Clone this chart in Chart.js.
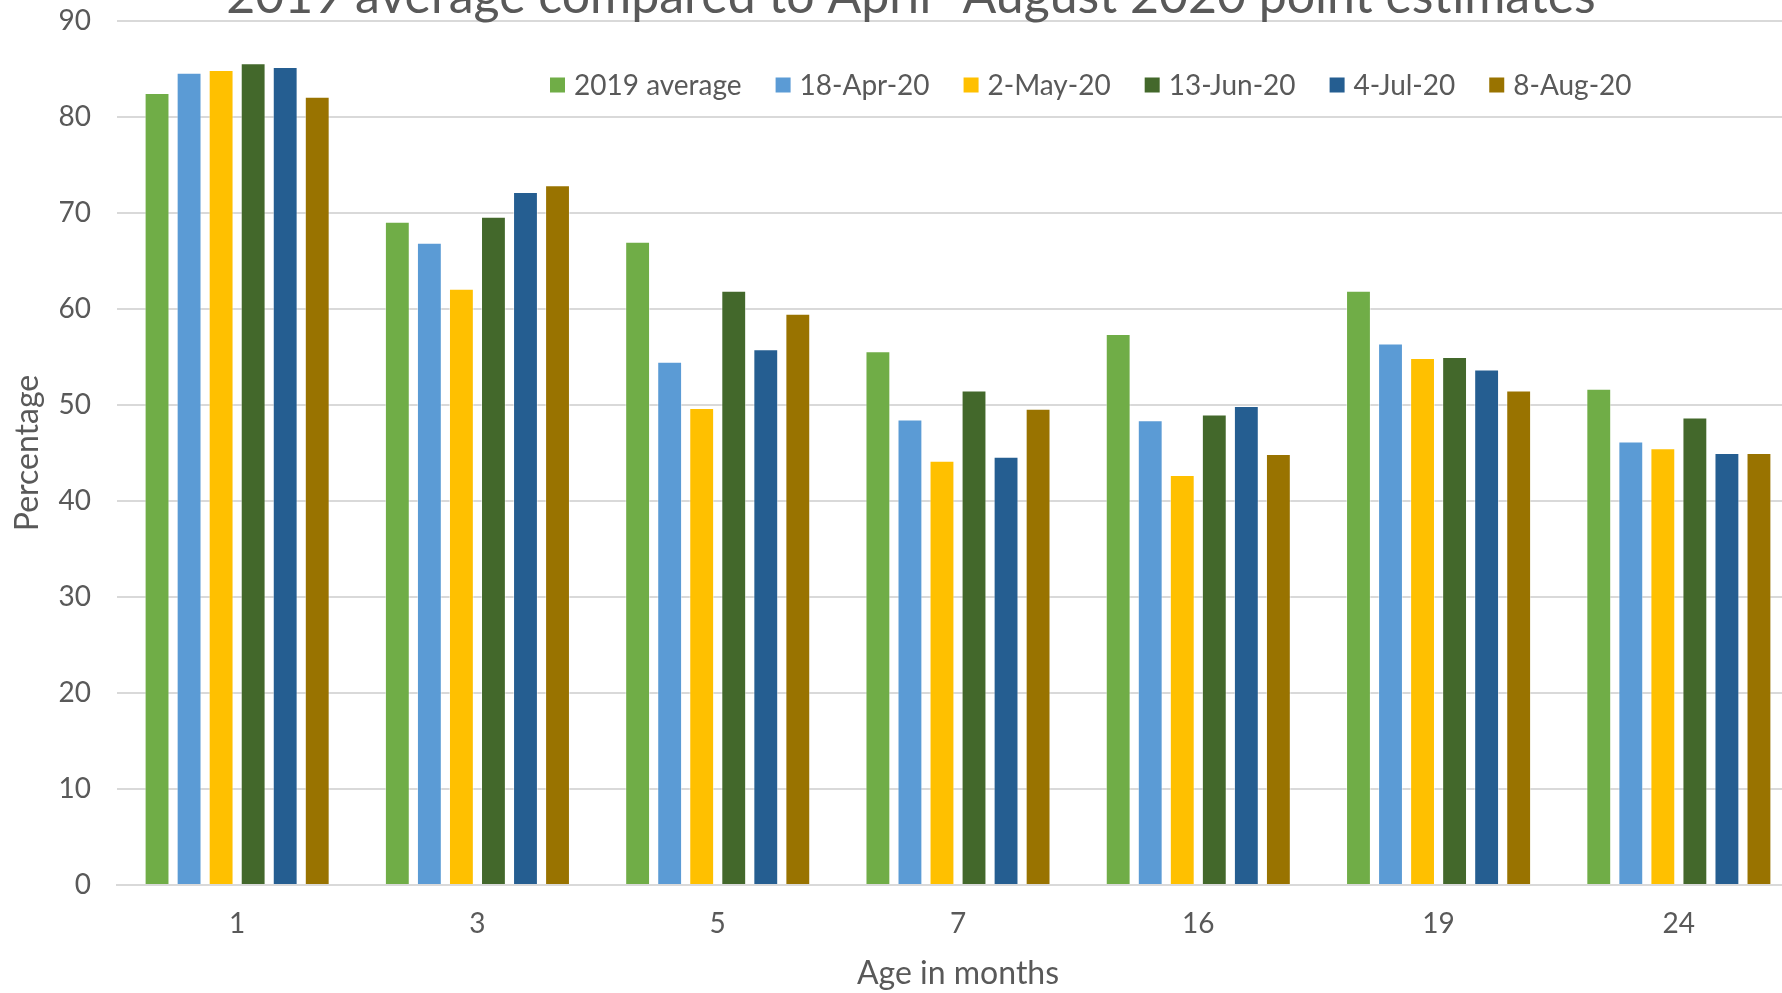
<!DOCTYPE html>
<html>
<head>
<meta charset="utf-8">
<title>Vaccination coverage by age</title>
<script src="https://cdn.jsdelivr.net/npm/chart.js@4.4.1/dist/chart.umd.min.js"></script>
<style>
  html, body { margin: 0; padding: 0; overflow: hidden; background: #fff; width: 1782px; height: 993px; }
  #wrap { position: absolute; left: 0; top: 0; width: 1822px; height: 993px; }
  canvas { display: block; }
</style>
</head>
<body>
<div id="wrap"><canvas id="chart" width="1822" height="993" style="width:1822px;height:993px"></canvas></div>
<script>
// Age groups (months)
const ageLabels = ['1', '3', '5', '7', '16', '19', '24'];

// Coverage percentages per period
const avg2019 = [82.5, 69.1, 67.0, 55.6, 57.4, 61.9, 51.7];
const apr18   = [84.6, 66.9, 54.5, 48.5, 48.4, 56.4, 46.2];
const may2    = [84.9, 62.1, 49.7, 44.2, 42.7, 54.9, 45.5];
const jun13   = [85.6, 69.6, 61.9, 51.5, 49.0, 55.0, 48.7];
const jul4    = [85.2, 72.2, 55.8, 44.6, 49.9, 53.7, 45.0];
const aug8    = [82.1, 72.9, 59.5, 49.6, 44.9, 51.5, 45.0];

const seriesNames = ['2019 average', '18-Apr-20', '2-May-20', '13-Jun-20', '4-Jul-20', '8-Aug-20'];
const seriesColors = ['#70AD47', '#5B9BD5', '#FFC000', '#43682B', '#255E91', '#997300'];

const chartTitle = '2019 average compared to April -August 2020 point estimates';
const TEXT = '#595959';
const GRID = '#d9d9d9';
const FONT = 'Lato';

const seriesValues = [avg2019, apr18, may2, jun13, jul4, aug8];

// Title sits partly above the top edge of the drawing surface
const titlePlugin = {
  id: 'headTitle',
  afterDraw(chart) {
    const ctx = chart.ctx;
    ctx.save();
    ctx.font = `50px ${FONT}`;
    ctx.fillStyle = TEXT;
    ctx.textAlign = 'center';
    ctx.textBaseline = 'alphabetic';
    ctx.fillText(chartTitle, chart.width / 2, 13);
    ctx.restore();
  }
};

// Legend drawn inside the plot area, on one row
const insetLegend = {
  id: 'insetLegend',
  afterDraw(chart) {
    const ctx = chart.ctx;
    const box = 15, y = 85;
    let x = 550;
    ctx.save();
    ctx.font = `28px ${FONT}`;
    ctx.textBaseline = 'middle';
    ctx.textAlign = 'left';
    chart.data.datasets.forEach(ds => {
      ctx.fillStyle = ds.backgroundColor;
      ctx.fillRect(x, y - box / 2, box, box);
      x += box + 9;
      ctx.fillStyle = TEXT;
      ctx.fillText(ds.label, x, y + 1);
      x += ctx.measureText(ds.label).width + 34;
    });
    ctx.restore();
  }
};

new Chart(document.getElementById('chart'), {
  type: 'bar',
  data: {
    labels: ageLabels,
    datasets: seriesNames.map((name, i) => ({
      label: name,
      data: seriesValues[i],
      backgroundColor: seriesColors[i],
      borderColor: 'rgba(255,255,255,0.45)',
      borderWidth: 1,
      categoryPercentage: 0.8,
      barPercentage: 0.776
    }))
  },
  options: {
    responsive: false,
    animation: false,
    layout: { padding: { top: 21, right: 23, left: 0, bottom: 0 } },
    plugins: {
      legend: { display: false },
      title: { display: false },
      tooltip: { enabled: false }
    },
    scales: {
      x: {
        grid: { display: false, drawTicks: false },
        border: { display: true, color: GRID, width: 2 },
        ticks: { color: TEXT, font: { family: FONT, size: 28 }, padding: 22 },
        title: {
          display: true,
          text: 'Age in months',
          color: TEXT,
          font: { family: FONT, size: 32 },
          padding: { top: 0, bottom: 0 }
        },
        afterFit(scale) {
          scale.height = 108;
          scale.paddingLeft = 0;
          scale.paddingRight = 0;
        }
      },
      y: {
        min: 0,
        max: 90,
        grid: { color: GRID, lineWidth: 2, drawTicks: false },
        border: { display: false },
        ticks: { stepSize: 10, color: TEXT, font: { family: FONT, size: 28 }, padding: 26 },
        title: {
          display: true,
          text: 'Percentage',
          color: TEXT,
          font: { family: FONT, size: 32 },
          padding: { top: 8, bottom: 0 }
        },
        afterFit(scale) {
          scale.width = 117;
          scale.paddingTop = 0;
          scale.paddingBottom = 0;
        }
      }
    }
  },
  plugins: [titlePlugin, insetLegend]
});
</script>
</body>
</html>
